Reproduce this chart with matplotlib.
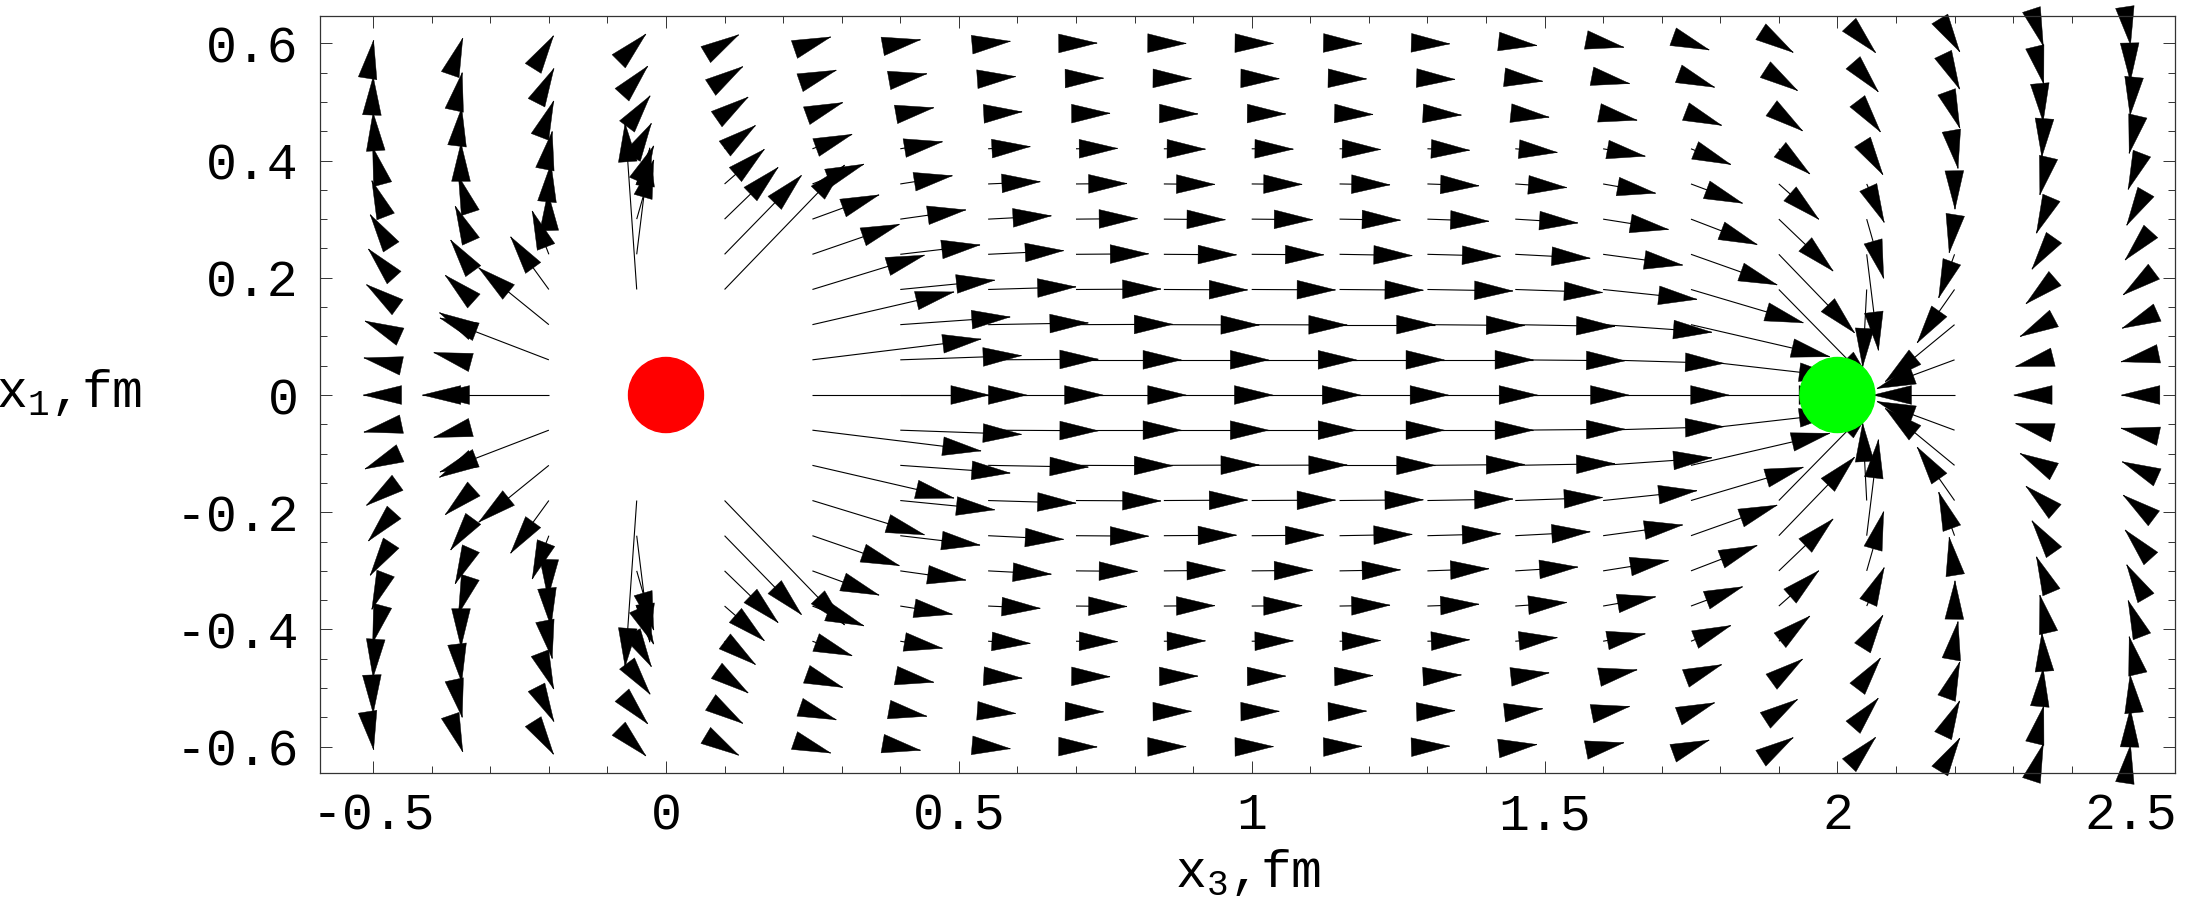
"""Vector field between two charges (x3-x1 plane), redrawn with matplotlib (Agg)."""
import numpy as np
import matplotlib
matplotlib.use("Agg")  # headless
import matplotlib.pyplot as plt  # noqa: E402
from matplotlib.collections import LineCollection, PolyCollection  # noqa: E402
from matplotlib.patches import Circle  # noqa: E402

nan = float("nan")

# grid of the field plot: columns along x3 and the upper rows along x1 (0.6 .. 0)
x_cols = [-0.5, -0.35, -0.2, -0.05, 0.1, 0.25, 0.4, 0.55, 0.7, 0.85, 1.0,
          1.15, 1.3, 1.45, 1.6, 1.75, 1.9, 2.05, 2.2, 2.35, 2.5]
y_rows = [0.6, 0.54, 0.48, 0.42, 0.36, 0.3, 0.24, 0.18, 0.12, 0.06, 0.0]

# arrow direction (deg), one list per column, rows ordered as y_rows.
# the picture is mirror symmetric in x1, so the lower half is the reflection.
arrow_angle = [
    [81, 88, 94, 105, 111, 123, 132, 144, 156, 168, 180],
    [71, 78, 83, 90, 108, 114, 126, 138, 151, 165, 180],
    [58, 63, 69, 79, 84, 92, 111, 126, 141, 159, 180],
    [45, 48, 53, 60, 66, 74, 83, 94, nan, nan, nan],
    [31, 33, 35, 37, 41, 44, 45.7, 46, nan, nan, nan],
    [19, 19, 20, 20, 21, 20, 19, 17, 13, 7, 0],
    [10, 10, 10, 9.5, 9, 8, 6.7, 5.6, 4, 2, 0],
    [5, 4, 3, 3, 2.5, 3, 2.8, 1.7, 1, 0.3, 0],
    [0.5, 0.5, 0.5, 0.5, 0.5, 0.5, 0.4, 0.3, 0.2, 0, 0],
    [-0.5, -0.5, -0.5, -0.5, -0.5, -0.5, -0.4, -0.3, -0.2, 0, 0],
    [-0.5, -0.5, -0.5, -0.5, -0.5, -0.5, -0.4, -0.3, -0.2, 0, 0],
    [-1, -1, -1.5, -1, -1, -1, -1, -0.5, 0, 0, 0],
    [-1.5, -2, -2.5, -2, -2, -2, -1.5, -1, -0.5, 0, 0],
    [-6, -6, -6, -5, -4, -3.5, -3, -2, -1, -0.5, 0],
    [-11, -11, -11, -10, -10, -9, -7.7, -6, -4, -1.7, 0],
    [-20, -20.5, -21, -21.5, -20.5, -21, -19.5, -16.5, -13, -6.5, 0],
    [-32.5, -33, -36, -39, -41.5, -43.7, -46, -45.5, nan, nan, nan],
    [-46.5, -49, -53, -58, -65.5, -74, -83, -93, nan, nan, nan],
    [-58.7, -64.6, -70, -80, -89, -99, -110, -125, -140.6, -159.7, 180],
    [-72, -76.5, -85, -94, -103, -113, -125, -139, -152, -166, 180],
    [-81.5, -89, -96, -103, -111, -120, -132, -143, -156, -168, 180],
]

# arrow length in fm (base point to tip), same layout
arrow_len = [
    [0.005, 0.003, 0.002, 0.003, 0.006, 0.009, 0.012, 0.014, 0.015, 0.016, 0.017],
    [0.009, 0.010, 0.010, 0.010, 0.014, 0.024, 0.030, 0.036, 0.042, 0.048, 0.066],
    [0.015, 0.019, 0.023, 0.030, 0.035, 0.046, 0.079, 0.111, 0.154, 0.199, 0.201],
    [0.022, 0.028, 0.038, 0.050, 0.071, 0.105, 0.183, 0.284, nan, nan, nan],
    [0.028, 0.037, 0.049, 0.066, 0.090, 0.127, 0.188, 0.295, nan, nan, nan],
    [0.033, 0.043, 0.055, 0.072, 0.094, 0.121, 0.157, 0.200, 0.248, 0.290, 0.302],
    [0.035, 0.046, 0.058, 0.073, 0.090, 0.113, 0.137, 0.162, 0.188, 0.207, 0.216],
    [0.038, 0.047, 0.058, 0.072, 0.089, 0.108, 0.129, 0.150, 0.171, 0.188, 0.196],
    [0.036, 0.047, 0.058, 0.071, 0.087, 0.105, 0.124, 0.145, 0.165, 0.180, 0.188],
    [0.038, 0.047, 0.058, 0.071, 0.087, 0.105, 0.124, 0.143, 0.163, 0.179, 0.186],
    [0.037, 0.047, 0.058, 0.071, 0.086, 0.104, 0.123, 0.143, 0.163, 0.179, 0.186],
    [0.038, 0.046, 0.057, 0.070, 0.086, 0.104, 0.124, 0.143, 0.163, 0.179, 0.186],
    [0.038, 0.047, 0.058, 0.072, 0.088, 0.105, 0.125, 0.146, 0.166, 0.181, 0.188],
    [0.037, 0.047, 0.058, 0.072, 0.088, 0.107, 0.128, 0.149, 0.170, 0.187, 0.194],
    [0.036, 0.046, 0.059, 0.073, 0.091, 0.113, 0.137, 0.161, 0.186, 0.206, 0.215],
    [0.033, 0.043, 0.056, 0.073, 0.094, 0.121, 0.156, 0.200, 0.243, 0.252, 0.250],
    [0.029, 0.038, 0.050, 0.068, 0.091, 0.128, 0.186, 0.231, nan, nan, nan],
    [0.022, 0.030, 0.039, 0.052, 0.072, 0.105, 0.165, 0.132, nan, nan, nan],
    [0.017, 0.020, 0.026, 0.034, 0.043, 0.058, 0.079, 0.111, 0.153, 0.141, 0.139],
    [0.005, 0.010, 0.014, 0.014, 0.019, 0.026, 0.031, 0.037, 0.043, 0.047, 0.049],
    [0.003, 0.005, 0.003, 0.008, 0.010, 0.012, 0.013, 0.015, 0.015, 0.016, 0.015],
]

charge_x = [0.0, 2.0]
charge_y = [0.0, 0.0]
charge_colors = ["#ff0000", "#00ff00"]

x_ticks = [-0.5, 0, 0.5, 1, 1.5, 2, 2.5]
x_labels = ["-0.5", "0", "0.5", "1", "1.5", "2", "2.5"]
y_ticks = [-0.6, -0.4, -0.2, 0, 0.2, 0.4, 0.6]
y_labels = ["-0.6", "-0.4", "-0.2", "0", "0.2", "0.4", "0.6"]

HEAD_L = 0.0655   # arrow head length, fm
HEAD_W = 0.032    # arrow head width, fm
DISK_R = 0.064

plt.rcParams["font.family"] = ["Liberation Mono", "DejaVu Sans Mono"]
plt.rcParams["mathtext.fontset"] = "custom"
plt.rcParams["mathtext.rm"] = "Liberation Mono"

fig = plt.figure(figsize=(21.98, 8.99), dpi=100)
ax = fig.add_axes([0.14541, 0.13982, 0.84413, 0.84238])

segs, heads = [], []
for i, x in enumerate(x_cols):
    for j, y in enumerate(y_rows):
        a, r = arrow_angle[i][j], arrow_len[i][j]
        if np.isnan(a):
            continue
        for sgn in ([1] if y == 0 else [1, -1]):
            th = np.deg2rad(sgn * a)
            c, s = np.cos(th), np.sin(th)
            bx, by = x, sgn * y
            tx, ty = bx + r * c, by + r * s
            segs.append([(bx, by), (tx, ty)])
            hx, hy = tx - HEAD_L * c, ty - HEAD_L * s
            w = HEAD_W / 2
            heads.append([(tx, ty), (hx - w * s, hy + w * c), (hx + w * s, hy - w * c)])

ax.add_collection(LineCollection(segs, colors="black", linewidths=0.8,
                                 clip_on=False, zorder=2))
ax.add_collection(PolyCollection(heads, facecolors="black", edgecolors="black",
                                 linewidths=0.3, clip_on=False, zorder=2))

for cx, cy, col in zip(charge_x, charge_y, charge_colors):
    ax.add_patch(Circle((cx, cy), DISK_R, color=col, zorder=4, clip_on=False))

ax.set_xlim(-0.5914, 2.5764)
ax.set_ylim(-0.6453, 0.6465)

ax.set_xticks(x_ticks)
ax.set_xticklabels(x_labels)
ax.set_yticks(y_ticks)
ax.set_yticklabels(y_labels)
ax.set_xticks(np.arange(-0.5, 2.55, 0.1), minor=True)
ax.set_yticks(np.arange(-0.6, 0.65, 0.05), minor=True)
ax.tick_params(which="both", direction="in", top=True, right=True, width=0.7,
               labelsize=37, color="#333333")
ax.tick_params(which="major", length=8.6)
ax.tick_params(which="minor", length=5.3)
ax.tick_params(axis="x", pad=13)
ax.tick_params(axis="y", pad=15)
for sp in ax.spines.values():
    sp.set_linewidth(0.9)
    sp.set_color("#333333")

fig.text(1248 / 2198, 1 - 873 / 899, r"x$_\mathrm{3}$,fm", fontsize=37,
         ha="center", va="center")
fig.text(142 / 2198, 1 - 392 / 899, r"x$_\mathrm{1}$,fm", fontsize=37,
         ha="right", va="center")

fig.savefig("out.png", dpi=100)
plt.close(fig)
